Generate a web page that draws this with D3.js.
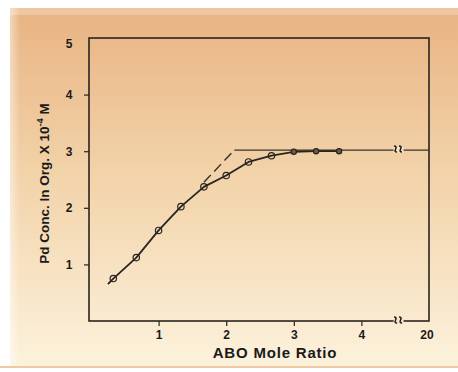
<!DOCTYPE html>
<html>
<head>
<meta charset="utf-8">
<script src="https://cdn.jsdelivr.net/npm/d3@7"></script>
<style>
  body { margin: 0; background: #fff; }
  text { font-family: "Liberation Sans", Arial, sans-serif; font-weight: bold; fill: #1a1a1a; }
</style>
</head>
<body>
<div id="chart"></div>
<script>
// ABO mole ratio vs Pd concentration in organic phase (x 10^-4 M)
const ratio = [0.33, 0.67, 1.0, 1.33, 1.67, 2.0, 2.33, 2.67, 3.0, 3.33, 3.67];
const pdConc = [0.75, 1.12, 1.6, 2.02, 2.37, 2.57, 2.81, 2.92, 2.99, 3.0, 3.0];
const curveStart = [0.25, 0.65];
const plateau = 3.02;
const tangentFrom = [1.67, 2.45];
const tangentTo = [2.12, 3.02];
const xTicks = [1, 2, 3, 4, 5];
const xTickLabels = ['1', '2', '3', '4', '20'];
const yTicks = [1, 2, 3, 4, 5];
const breakAt = 4.55;

const width = 458, height = 372;
const svg = d3.select('#chart').append('svg')
  .attr('width', width)
  .attr('height', height);

const defs = svg.append('defs');
const grad = defs.append('linearGradient').attr('id', 'bg')
  .attr('x1', 0).attr('y1', 0).attr('x2', 0).attr('y2', 1);
grad.append('stop').attr('offset', '0%').attr('stop-color', '#e8b382');
grad.append('stop').attr('offset', '45%').attr('stop-color', '#f2d2a8');
grad.append('stop').attr('offset', '100%').attr('stop-color', '#fcf2dc');

const gradL = defs.append('linearGradient').attr('id', 'side')
  .attr('x1', 0).attr('y1', 0).attr('x2', 1).attr('y2', 0);
gradL.append('stop').attr('offset', '0%').attr('stop-color', '#fff').attr('stop-opacity', 0.45);
gradL.append('stop').attr('offset', '100%').attr('stop-color', '#fff').attr('stop-opacity', 0);

svg.append('rect').attr('x', 10).attr('y', 8).attr('width', width - 10).attr('height', 359)
  .attr('fill', 'url(#bg)');
svg.append('rect').attr('x', 10).attr('y', 8).attr('width', width - 10).attr('height', 7)
  .attr('fill', '#fff').attr('opacity', 0.25);
svg.append('rect').attr('x', 10).attr('y', 8).attr('width', 10).attr('height', 359)
  .attr('fill', 'url(#side)');
svg.append('rect').attr('x', 0).attr('y', 366).attr('width', width).attr('height', 2)
  .attr('fill', '#efc9a4');

const pLeft = 89, pRight = 429, pTop = 38, pBottom = 321;

const x = d3.scaleLinear().domain([0, 5]).range([pLeft + 2, pRight]);
const y = d3.scaleLinear().domain([0, 5]).range([pBottom, pTop]);

// frame
svg.append('rect')
  .attr('x', pLeft).attr('y', pTop)
  .attr('width', pRight - pLeft).attr('height', pBottom - pTop)
  .attr('fill', 'none').attr('stroke', '#2a2420').attr('stroke-width', 1.6);

// axes
const xAxis = svg.append('g')
  .attr('transform', `translate(0,${pBottom})`)
  .call(d3.axisBottom(x).tickValues(xTicks.slice(0, 4)).tickSize(5).tickPadding(4)
    .tickFormat((d, i) => xTickLabels[i]));
xAxis.select('.domain').remove();
xAxis.selectAll('line').attr('stroke', '#2a2420').attr('stroke-width', 1.2);
xAxis.selectAll('text').attr('font-size', 12);
svg.append('text')
  .attr('x', x(5) - 2).attr('y', pBottom + 18)
  .attr('text-anchor', 'middle').attr('font-size', 12)
  .text(xTickLabels[4]);

const yAxis = svg.append('g')
  .attr('transform', `translate(${pLeft},0)`)
  .call(d3.axisLeft(y).tickValues(yTicks).tickSize(5).tickFormat(d3.format('d')));
yAxis.select('.domain').remove();
yAxis.selectAll('line').attr('stroke', '#2a2420').attr('stroke-width', 1.2);
yAxis.selectAll('.tick').filter(d => d === 5).select('line').remove();
yAxis.selectAll('text').attr('font-size', 12).attr('text-anchor', 'middle').attr('x', -20);
yAxis.selectAll('.tick').filter(d => d === 5).select('text').attr('dy', '0.8em');

// titles
svg.append('text')
  .attr('x', 275).attr('y', 358)
  .attr('text-anchor', 'middle').attr('font-size', 15).attr('letter-spacing', 0.8)
  .text('ABO Mole Ratio');

const yTitle = svg.append('text')
  .attr('transform', `translate(49,${(pTop + pBottom) / 2 + 4}) rotate(-90)`)
  .attr('text-anchor', 'middle').attr('font-size', 13.5);
yTitle.append('tspan').text('Pd Conc. In Org. X 10');
yTitle.append('tspan').attr('dy', -6).attr('font-size', 9.5).text('-4');
yTitle.append('tspan').attr('dy', 6).text(' M');

// plateau line
svg.append('line')
  .attr('x1', x(tangentTo[0])).attr('y1', y(plateau))
  .attr('x2', x(5)).attr('y2', y(plateau))
  .attr('stroke', '#3a3028').attr('stroke-width', 1.2);

// dashed tangent
svg.append('line')
  .attr('x1', x(tangentFrom[0])).attr('y1', y(tangentFrom[1]))
  .attr('x2', x(tangentTo[0])).attr('y2', y(tangentTo[1]))
  .attr('stroke', '#3a3028').attr('stroke-width', 1.4)
  .attr('stroke-dasharray', '10,5');

// line through points
const pts = [curveStart].concat(ratio.map((r, i) => [r, pdConc[i]]));
svg.append('path')
  .datum(pts)
  .attr('fill', 'none')
  .attr('stroke', '#2a2420').attr('stroke-width', 1.8)
  .attr('stroke-linejoin', 'round')
  .attr('d', d3.line().x(d => x(d[0])).y(d => y(d[1])));

// markers
svg.append('g').selectAll('circle')
  .data(ratio)
  .join('circle')
  .attr('cx', d => x(d))
  .attr('cy', (d, i) => y(pdConc[i]))
  .attr('r', (d, i) => i >= 8 ? 2.6 : 3.2)
  .attr('fill', (d, i) => i >= 8 ? '#6a5a48' : 'none')
  .attr('stroke', '#2a2420').attr('stroke-width', 1.2);

// axis break marks
function breakMark(cx, cy) {
  const g = svg.append('g').attr('transform', `translate(${cx},${cy})`);
  g.append('rect').attr('x', -5).attr('y', -3).attr('width', 10).attr('height', 6).attr('fill', '#f6e2c4');
  [-2.5, 2.5].forEach(dx => {
    g.append('path')
      .attr('d', `M${dx - 2},-4 q3,0 1.5,3 q-1.5,3 1.5,3`)
      .attr('fill', 'none').attr('stroke', '#1a1a1a').attr('stroke-width', 1.5);
  });
}
breakMark(x(breakAt), y(plateau));
breakMark(x(breakAt), pBottom);
</script>
</body>
</html>
